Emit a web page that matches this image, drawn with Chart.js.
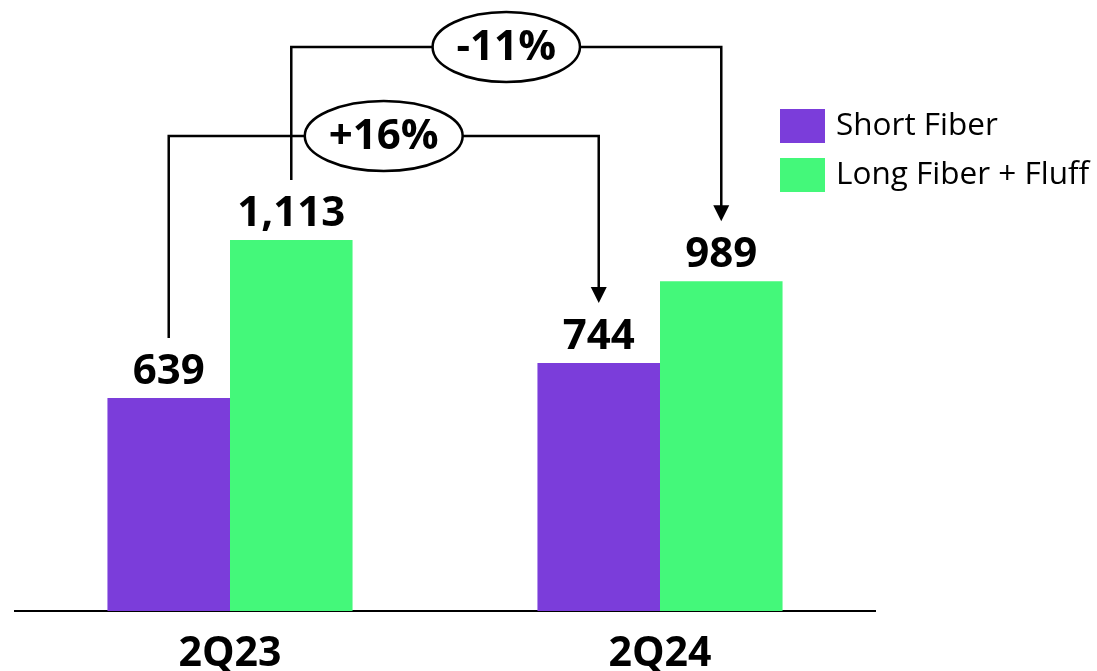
<!DOCTYPE html>
<html>
<head>
<meta charset="utf-8">
<script src="https://cdn.jsdelivr.net/npm/chart.js@4/dist/chart.umd.min.js"></script>
<style>
  html, body { margin: 0; padding: 0; background: #fff; }
  canvas { display: block; }
</style>
</head>
<body>
<canvas id="fiber-chart" width="1097" height="671"></canvas>
<script>
// data
const categories = ['2Q23', '2Q24'];
const shortFiber = [639, 744];
const longFiberFluff = [1113, 989];
const seriesNames = ['Short Fiber', 'Long Fiber + Fluff'];
const seriesColors = ['#7B3DDA', '#44F87A'];

const FONT = '"Open Sans", "Noto Sans", sans-serif';

// numbers above each bar
const valueLabels = {
  id: 'valueLabels',
  afterDatasetsDraw(chart) {
    const ctx = chart.ctx;
    ctx.save();
    ctx.font = 'bold 42px ' + FONT;
    ctx.fillStyle = '#000';
    ctx.textAlign = 'center';
    ctx.textBaseline = 'alphabetic';
    chart.data.datasets.forEach((ds, i) => {
      chart.getDatasetMeta(i).data.forEach((bar, j) => {
        ctx.fillText(ds.data[j].toLocaleString('en-US'), bar.x, bar.y - 14);
      });
    });
    ctx.restore();
  }
};

// growth brackets between the same series in both quarters
const growthBrackets = {
  id: 'growthBrackets',
  afterDatasetsDraw(chart) {
    const ctx = chart.ctx;
    const top = chart.chartArea.top;
    // dataset index and height of the horizontal run (px below chart top)
    const brackets = [{ ds: 0, level: 125 }, { ds: 1, level: 36 }];
    ctx.save();
    ctx.strokeStyle = '#000';
    ctx.fillStyle = '#000';
    ctx.lineWidth = 2.5;
    brackets.forEach(b => {
      const bars = chart.getDatasetMeta(b.ds).data;
      const vals = chart.data.datasets[b.ds].data;
      const a = bars[0], c = bars[1];
      const y0 = a.y - 60, y1 = c.y - 60, yh = top + b.level;
      ctx.beginPath();
      ctx.moveTo(a.x, y0);
      ctx.lineTo(a.x, yh);
      ctx.lineTo(c.x, yh);
      ctx.lineTo(c.x, y1 - 14);
      ctx.stroke();
      // arrow head
      ctx.beginPath();
      ctx.moveTo(c.x - 8, y1 - 16);
      ctx.lineTo(c.x + 8, y1 - 16);
      ctx.lineTo(c.x, y1);
      ctx.closePath();
      ctx.fill();

      const pct = Math.round((vals[1] / vals[0] - 1) * 100);
      const txt = (pct > 0 ? '+' : '') + pct + '%';
      ctx.font = 'bold 42px ' + FONT;
      const w = ctx.measureText(txt).width;
      const mx = (a.x + c.x) / 2;
      ctx.beginPath();
      ctx.ellipse(mx, yh, w / 2 + 24, 35, 0, 0, Math.PI * 2);
      ctx.fillStyle = '#fff';
      ctx.fill();
      ctx.stroke();
      ctx.fillStyle = '#000';
      ctx.textAlign = 'center';
      ctx.textBaseline = 'middle';
      ctx.fillText(txt, mx, yh + 1);
    });
    ctx.restore();
  }
};

// legend at the upper right
const sideLegend = {
  id: 'sideLegend',
  afterDraw(chart) {
    const ctx = chart.ctx;
    ctx.save();
    ctx.font = '31.5px ' + FONT;
    ctx.textBaseline = 'middle';
    ctx.textAlign = 'left';
    chart.data.datasets.forEach((ds, i) => {
      const y = 109 + i * 49;
      ctx.fillStyle = ds.backgroundColor;
      ctx.fillRect(780, y, 45, 34);
      ctx.fillStyle = '#000';
      ctx.fillText(ds.label, 836, y + 17);
    });
    ctx.restore();
  }
};

new Chart(document.getElementById('fiber-chart'), {
  type: 'bar',
  data: {
    labels: categories,
    datasets: [
      { label: seriesNames[0], data: shortFiber, backgroundColor: seriesColors[0] },
      { label: seriesNames[1], data: longFiberFluff, backgroundColor: seriesColors[1] }
    ]
  },
  options: {
    responsive: false,
    animation: false,
    categoryPercentage: 0.57,
    barPercentage: 1.0,
    layout: { padding: { left: 15, right: 222, top: 11, bottom: 0 } },
    plugins: {
      legend: { display: false },
      tooltip: { enabled: false }
    },
    scales: {
      x: {
        grid: { display: false, drawTicks: false },
        border: { display: true, color: '#000', width: 2 },
        ticks: {
          color: '#000',
          padding: 19,
          font: { family: FONT, size: 41, weight: 'bold' }
        },
        afterFit(scale) { scale.height = 60; }
      },
      y: {
        display: false,
        min: 0,
        max: 1800
      }
    }
  },
  plugins: [valueLabels, growthBrackets, sideLegend]
});
</script>
</body>
</html>
